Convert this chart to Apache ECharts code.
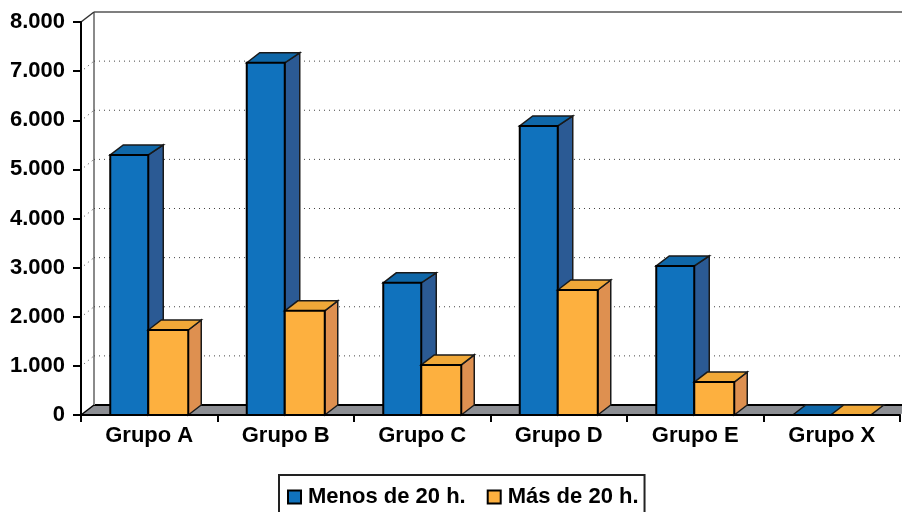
<!DOCTYPE html>
<html><head><meta charset="utf-8">
<style>html,body{margin:0;padding:0;background:#fff;overflow:hidden}#c{width:902px;height:512px}</style>
<script src="https://cdn.jsdelivr.net/npm/echarts@6/dist/echarts.min.js"></script>
</head><body><div id="c"></div>
<script>
const categories = ['Grupo A','Grupo B','Grupo C','Grupo D','Grupo E','Grupo X'];
const menos = [5295,7170,2690,5885,3035,0];
const mas = [1730,2120,1020,2545,670,0];
const tickLabels = ['0','1.000','2.000','3.000','4.000','5.000','6.000','7.000','8.000'];
const gridValues = [1000,2000,3000,4000,5000,6000,7000];
const FONT = '"Liberation Sans", Arial, sans-serif';
const DX = 13, DY = 10;

const chart = echarts.init(document.getElementById('c'), null, {renderer:'canvas'});

function poly(points, fill, stroke, lw){
  return {type:'polygon', shape:{points}, style:{fill, stroke, lineWidth:lw, lineJoin:'miter'}};
}
function barRenderer(x0, x1, dxr, front, side, top){
  return function(params, api){
    const i = api.value(0), v = api.value(1);
    const base = api.coord([i,0]), tip = api.coord([i,v]);
    const unit = api.size([1,0])[0];
    const l = base[0] + x0*unit, r = base[0] + x1*unit;
    const b = base[1], t = tip[1];
    const children = [];
    if (v > 0) {
      children.push(poly([[r,b],[r+dxr,b-DY],[r+dxr,t-DY],[r,t]], side, '#1a1a1a', 1.5));
    }
    children.push(poly([[l,t],[l+DX,t-DY],[r+dxr,t-DY],[r,t]], top, '#1a1a1a', 1.5));
    if (v > 0) {
      children.push({type:'rect', shape:{x:l,y:t,width:r-l,height:b-t}, style:{fill:front, stroke:'#000', lineWidth:2}});
    }
    return {type:'group', children};
  };
}
const wallRenderer = function(params, api){
  const v = api.value(0);
  const a = api.coord([0,v]);
  const left = a[0]-api.size([1,0])[0]/2;
  const right = left + api.size([1,0])[0]*6 + DX;
  const y = a[1];
  const dots = {stroke:'#444', lineWidth:1, lineDash:[1,4]};
  return {type:'group', children:[
    {type:'line', shape:{x1:left+DX,y1:y-DY,x2:right,y2:y-DY}, style:dots},
    {type:'line', shape:{x1:left+3,y1:y-2,x2:left+DX,y2:y-DY}, style:dots}
  ]};
};
const frameRenderer = function(params, api){
  const a0 = api.coord([0,0]), a8 = api.coord([0,8000]);
  const unit = api.size([1,0])[0];
  const left = a0[0]-unit/2, right = left + unit*6;
  const b = a0[1], t = a8[1];
  return {type:'group', children:[
    poly([[left,b],[left+DX,b-DY],[right+DX,b-DY],[right,b]], '#8C8E93', null, 0),
    {type:'line', shape:{x1:left+DX,y1:b-DY,x2:right+DX,y2:b-DY}, style:{stroke:'#000',lineWidth:2}},
    {type:'line', shape:{x1:left+DX,y1:t-DY,x2:left+DX,y2:b-DY}, style:{stroke:'#8a8a8a',lineWidth:2}},
    {type:'line', shape:{x1:left+DX,y1:t-DY,x2:right+DX,y2:t-DY}, style:{stroke:'#555',lineWidth:1.5}},
    {type:'line', shape:{x1:left,y1:t,x2:left+DX,y2:t-DY}, style:{stroke:'#333',lineWidth:1.5}},
    {type:'line', shape:{x1:left,y1:b,x2:left+DX,y2:b-DY}, style:{stroke:'#000',lineWidth:1.5}}
  ]};
};

chart.setOption({
  animation:false,
  backgroundColor:'#fff',
  grid:{left:81, right:2, top:22, height:393, containLabel:false},
  legend:{
    data:['Menos de 20 h.','Más de 20 h.'],
    left:279, top:475,
    backgroundColor:'#fff',
    borderColor:'#222', borderWidth:2, borderRadius:0,
    padding:[11,6,20,8],
    itemWidth:13, itemHeight:13, itemGap:21,
    icon:'rect',
    itemStyle:{borderColor:'#000',borderWidth:2},
    textStyle:{fontFamily:FONT,fontWeight:'bold',fontSize:22,color:'#000',padding:[0,0,0,2]}
  },
  xAxis:{
    type:'category', data:categories, boundaryGap:true,
    axisLine:{show:true,lineStyle:{color:'#000',width:2}},
    axisTick:{show:true,alignWithLabel:false,length:7,lineStyle:{color:'#000',width:2}},
    axisLabel:{fontFamily:FONT,fontWeight:'bold',fontSize:22,color:'#000',margin:10,interval:0},
    z:5
  },
  yAxis:{
    type:'value', min:0, max:8000, interval:1000,
    axisLine:{show:true,lineStyle:{color:'#000',width:2}},
    axisTick:{show:true,length:8,lineStyle:{color:'#000',width:2}},
    axisLabel:{fontFamily:FONT,fontWeight:'bold',fontSize:22,color:'#000',margin:16,padding:[1,0,0,0],
      formatter:(v)=>tickLabels[Math.round(v/1000)]},
    splitLine:{show:false},
    z:5
  },
  series:[
    {name:'marco',type:'custom',coordinateSystem:'cartesian2d',renderItem:frameRenderer,data:[[0,0]],encode:{x:0,y:1},z:1,silent:true},
    {name:'rejilla',type:'custom',coordinateSystem:'cartesian2d',renderItem:wallRenderer,data:gridValues.map(v=>[v]),encode:{y:0},z:1,silent:true},
    {name:'Menos de 20 h.',type:'custom',coordinateSystem:'cartesian2d',
     renderItem:barRenderer(-39/136.5,-1/136.5,15,'#1072BD','#2B5A94','#0F67A8'),
     data:menos.map((v,i)=>[i,v]),encode:{x:0,y:1},itemStyle:{color:'#1072BD'},z:2},
    {name:'Más de 20 h.',type:'custom',coordinateSystem:'cartesian2d',
     renderItem:barRenderer(-1/136.5,39/136.5,13,'#FDB03F','#DE9050','#F0A838'),
     data:mas.map((v,i)=>[i,v]),encode:{x:0,y:1},itemStyle:{color:'#FDB03F'},z:3}
  ]
});
</script></body></html>
